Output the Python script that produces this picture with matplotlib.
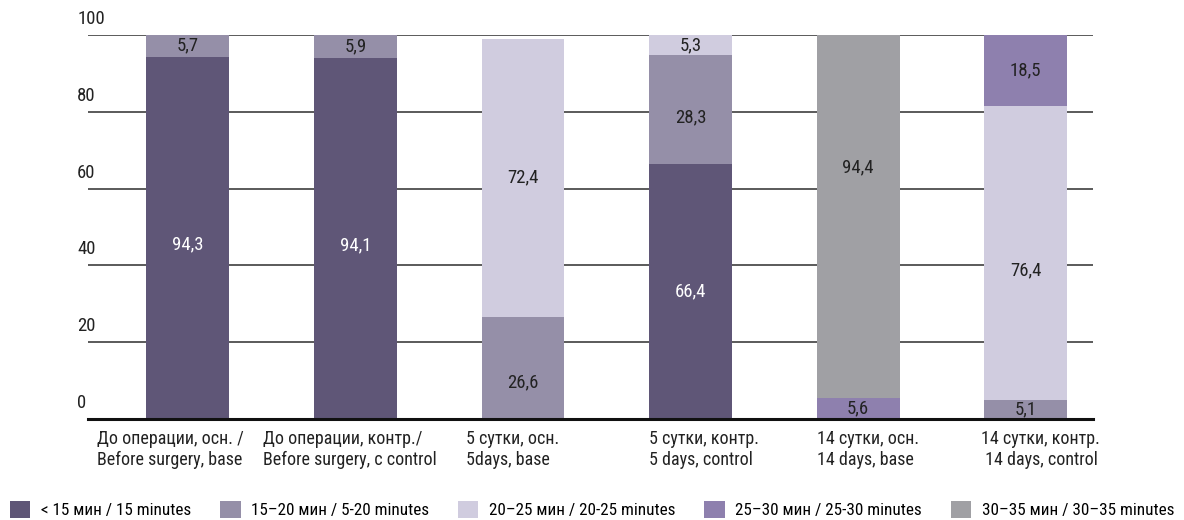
import numpy as np
import matplotlib.pyplot as plt
from matplotlib.patches import Patch

plt.rcParams["font.family"] = ["Roboto Condensed", "DejaVu Sans"]

groups = [
    "До операции, осн. /\nBefore surgery, base",
    "До операции, контр./\nBefore surgery, c control",
    "5 сутки, осн.\n5days, base",
    "5 сутки, контр.\n5 days, control",
    "14 сутки, осн.\n14 days, base",
    "14 сутки, контр.\n 14 days, control",
]
series_names = [
    "< 15 мин / 15 minutes",
    "15–20 мин / 5-20 minutes",
    "20–25 мин / 20-25 minutes",
    "25–30 мин / 25-30 minutes",
    "30–35 мин / 30–35 minutes",
]
lt15 = [94.3, 94.1, 0, 66.4, 0, 0]
m15_20 = [5.7, 5.9, 26.6, 28.3, 0, 5.1]
m20_25 = [0, 0, 72.4, 5.3, 0, 76.4]
m25_30 = [0, 0, 0, 0, 5.6, 18.5]
m30_35 = [0, 0, 0, 0, 94.4, 0]
yticks = [0, 20, 40, 60, 80, 100]

colors = ["#5f5677", "#958fa8", "#d0ccdf", "#8e80ae", "#a0a0a4"]
text_colors = ["white", "#222222", "#222222", "#222222", "#222222"]
# small vertical nudges for a few value labels (bar index, series index)
label_shift = {(2, 1): -3.7, (4, 4): 12.6, (5, 2): -4.5, (3, 1): -2.0, (0, 0): -1.8, (1, 0): -1.8}
# left edge of the category captions relative to the bar centre
caption_dx = [-0.54, -0.55, -0.34, -0.25, -0.245, -0.27]

fig = plt.figure(figsize=(11.84, 5.2), dpi=100)
ax = fig.add_axes([0.0743, 0.194, 0.8487, 0.739])

x = np.arange(len(groups))
width = 0.494
bottom = np.zeros(len(groups))
for si, vals in enumerate([lt15, m15_20, m20_25, m25_30, m30_35]):
    vals = np.array(vals, dtype=float)
    ax.bar(x, vals, width, bottom=bottom, color=colors[si], zorder=2)
    for i, v in enumerate(vals):
        if v <= 0:
            continue
        yc = bottom[i] + v / 2 + label_shift.get((i, si), 0)
        ax.text(x[i], yc, f"{v:.1f}".replace(".", ","), ha="center", va="center",
                fontsize=13.5, color=text_colors[si], zorder=3)
    bottom += vals

ax.set_xlim(-0.595, 5.4)
ax.set_ylim(0, 100)
for t in yticks[1:]:
    ax.axhline(t, color="#4d4d4d", lw=1.3, zorder=1)
ax.axhline(0, color="#111111", lw=2.2, zorder=4, clip_on=False)

for t in yticks:
    ax.text(-0.66, t + 1.8, str(t), ha="left", va="bottom", fontsize=13.5, color="#222222")

for i, g in enumerate(groups):
    ax.text(x[i] + caption_dx[i], -2.8, g, ha="left", va="top", fontsize=13,
            color="#222222", linespacing=1.2)

for s in ax.spines.values():
    s.set_visible(False)
ax.set_xticks([])
ax.set_yticks([])

handles = [Patch(facecolor=c, edgecolor="none") for c in colors]
fig.legend(handles, series_names, loc="lower center", bbox_to_anchor=(0.5, -0.026), ncol=5,
           frameon=False, fontsize=12.3, handlelength=1.2, handleheight=1.1,
           handletextpad=0.6, columnspacing=1.7)

fig.savefig("out.png", dpi=100)
